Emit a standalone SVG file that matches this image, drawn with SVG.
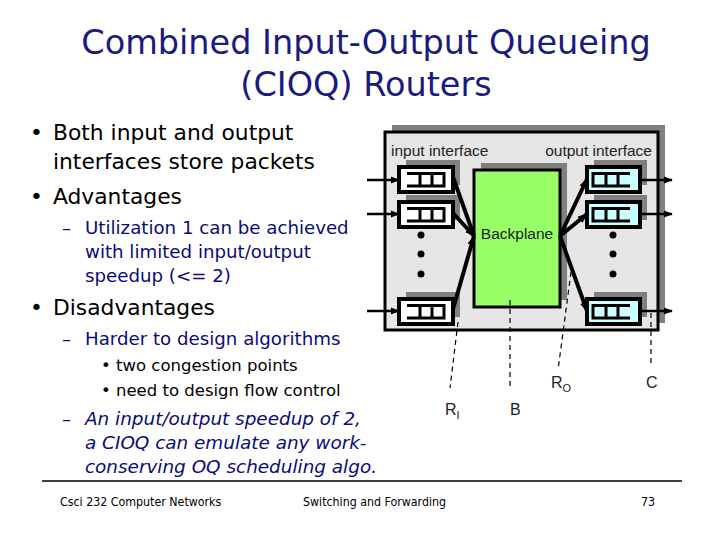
<svg xmlns="http://www.w3.org/2000/svg" width="720" height="540" viewBox="0 0 720 540">
<defs>
<style>
.title{font-family:"DejaVu Sans",sans-serif;font-size:33.5px;fill:#1a1a80;text-anchor:middle}
.l1{font-family:"DejaVu Sans",sans-serif;font-size:21.8px;fill:#000}
.l2{font-family:"DejaVu Sans",sans-serif;font-size:18.2px;fill:#0a0a80}
.l2i{font-family:"DejaVu Sans",sans-serif;font-size:18.4px;fill:#0a0a80;font-style:italic}
.l3{font-family:"DejaVu Sans",sans-serif;font-size:16.5px;fill:#000}
.foot{font-family:"DejaVu Sans Condensed","DejaVu Sans",sans-serif;font-size:12.3px;fill:#000}
.lab{font-family:"Liberation Sans",Arial,sans-serif;fill:#222}
.shadow{fill:#808080}
.inbox{fill:#fff;stroke:#000;stroke-width:4}
.outbox{fill:#ccffff;stroke:#000;stroke-width:4}
.q{fill:none;stroke:#000;stroke-width:3}
.thick{stroke:#000;stroke-width:4;fill:none}
.ext{stroke:#000;stroke-width:2.5;fill:none}
.dash{stroke:#000;stroke-width:1.2;stroke-dasharray:5,4;fill:none}
</style>
<marker id="ah" viewBox="0 0 10 8" refX="9" refY="4" markerWidth="10" markerHeight="8" markerUnits="userSpaceOnUse" orient="auto">
<path d="M0,0 L10,4 L0,8 z" fill="#000"/>
</marker>
<marker id="ahs" viewBox="0 0 10 8" refX="9" refY="4" markerWidth="9" markerHeight="8" markerUnits="userSpaceOnUse" orient="auto">
<path d="M0,0 L10,4 L0,8 z" fill="#000"/>
</marker>
</defs>
<rect width="720" height="540" fill="#fff"/>

<g id="title">
<text class="title" x="366" y="54">Combined Input-Output Queueing</text>
<text class="title" x="366" y="96">(CIOQ) Routers</text>
</g>

<g id="bullets">
<text class="l1" x="30" y="140">•</text>
<text class="l1" x="53" y="140">Both input and output</text>
<text class="l1" x="53" y="169">interfaces store packets</text>
<text class="l1" x="30" y="204">•</text>
<text class="l1" x="53" y="204">Advantages</text>
<text class="l2" x="62" y="234">–</text>
<text class="l2" x="85" y="234">Utilization 1 can be achieved</text>
<text class="l2" x="85" y="258">with limited input/output</text>
<text class="l2" x="85" y="282">speedup (&lt;= 2)</text>
<text class="l1" x="30" y="315">•</text>
<text class="l1" x="53" y="315">Disadvantages</text>
<text class="l2" x="62" y="345">–</text>
<text class="l2" x="85" y="345">Harder to design algorithms</text>
<text class="l3" x="101" y="371">•</text>
<text class="l3" x="116" y="371">two congestion points</text>
<text class="l3" x="101" y="396">•</text>
<text class="l3" x="116" y="396">need to design flow control</text>
<text class="l2" x="62" y="425">–</text>
<text class="l2i" x="85" y="425">An input/output speedup of 2,</text>
<text class="l2i" x="85" y="449">a CIOQ can emulate any work-</text>
<text class="l2i" x="85" y="473">conserving OQ scheduling algo.</text>
</g>

<g id="router">
<rect class="shadow" x="392" y="125" width="273" height="198"/>
<rect x="385" y="132" width="273" height="198" fill="#e6e6e6" stroke="#000" stroke-width="3"/>
<text class="lab" x="391" y="156" font-size="15.5">input interface</text>
<text class="lab" x="652" y="156" font-size="15.5" text-anchor="end">output interface</text>
</g>

<g id="backplane">
<rect class="shadow" x="481" y="163" width="86" height="137"/>
<rect x="474" y="170" width="86" height="137" fill="#99ff66" stroke="#000" stroke-width="3"/>
<text class="lab" x="517" y="239" font-size="15.5" text-anchor="middle" fill="#1a2a10">Backplane</text>
</g>

<g id="in1">
<rect class="shadow" x="406" y="160" width="54" height="25"/>
<rect class="inbox" x="399" y="167" width="54" height="25"/>
<path class="q" d="M407,173.5 H444 V186 H407 M420,173.5 V186 M432,173.5 V186"/>
</g>
<g id="in2">
<rect class="shadow" x="406" y="195" width="54" height="25"/>
<rect class="inbox" x="399" y="202" width="54" height="25"/>
<path class="q" d="M407,208.5 H444 V221 H407 M420,208.5 V221 M432,208.5 V221"/>
</g>
<g id="in3">
<rect class="shadow" x="406" y="292" width="54" height="25"/>
<rect class="inbox" x="399" y="299" width="54" height="25"/>
<path class="q" d="M407,305.5 H444 V318 H407 M420,305.5 V318 M432,305.5 V318"/>
</g>
<g id="indots" fill="#000">
<circle cx="421" cy="235" r="3.5"/>
<circle cx="421" cy="254" r="3.5"/>
<circle cx="421" cy="274" r="3.5"/>
</g>

<g id="out1">
<rect class="shadow" x="594" y="160" width="53" height="25"/>
<rect class="outbox" x="587" y="167" width="53" height="25"/>
<path class="q" d="M630,173.5 H593 V186 H630 M606,173.5 V186 M618,173.5 V186"/>
</g>
<g id="out2">
<rect class="shadow" x="594" y="195" width="53" height="25"/>
<rect class="outbox" x="587" y="202" width="53" height="25"/>
<path class="q" d="M630,208.5 H593 V221 H630 M606,208.5 V221 M618,208.5 V221"/>
</g>
<g id="out3">
<rect class="shadow" x="594" y="292" width="53" height="25"/>
<rect class="outbox" x="587" y="299" width="53" height="25"/>
<path class="q" d="M630,305.5 H593 V318 H630 M606,305.5 V318 M618,305.5 V318"/>
</g>
<g id="outdots" fill="#000">
<circle cx="613" cy="235" r="3.5"/>
<circle cx="613" cy="254" r="3.5"/>
<circle cx="613" cy="274" r="3.5"/>
</g>

<g id="connectors">
<line class="ext" x1="367" y1="180" x2="399" y2="180" marker-end="url(#ahs)"/>
<line class="ext" x1="367" y1="214" x2="399" y2="214" marker-end="url(#ahs)"/>
<line class="ext" x1="367" y1="311" x2="399" y2="311" marker-end="url(#ahs)"/>
<line class="ext" x1="640" y1="180" x2="672" y2="180" marker-end="url(#ahs)"/>
<line class="ext" x1="640" y1="214" x2="672" y2="214" marker-end="url(#ahs)"/>
<line class="ext" x1="640" y1="311" x2="672" y2="311" marker-end="url(#ahs)"/>
<line class="thick" x1="453" y1="177" x2="474" y2="236" marker-end="url(#ah)"/>
<line class="thick" x1="453" y1="213" x2="474" y2="236" marker-end="url(#ah)"/>
<line class="thick" x1="453" y1="309" x2="474" y2="236" marker-end="url(#ah)"/>
<line class="thick" x1="560" y1="236" x2="587" y2="179" marker-end="url(#ah)"/>
<line class="thick" x1="560" y1="236" x2="587" y2="214" marker-end="url(#ah)"/>
<line class="thick" x1="560" y1="236" x2="587" y2="311" marker-end="url(#ah)"/>
<line class="dash" x1="458" y1="322" x2="450" y2="388"/>
<line class="dash" x1="510" y1="300" x2="510" y2="388"/>
<line class="dash" x1="571" y1="272" x2="558" y2="370"/>
<line class="dash" x1="651" y1="313" x2="651" y2="365"/>
</g>

<g id="labels" class="lab" font-size="16">
<text x="445" y="415">R<tspan font-size="11" dy="4">I</tspan></text>
<text x="510" y="415">B</text>
<text x="551" y="388">R<tspan font-size="11" dy="4">O</tspan></text>
<text x="646" y="388">C</text>
</g>

<g id="footer">
<line x1="42" y1="481" x2="682" y2="481" stroke="#000" stroke-width="1.5"/>
<text class="foot" x="60" y="506">Csci 232 Computer Networks</text>
<text class="foot" x="303" y="506">Switching and Forwarding</text>
<text class="foot" x="641" y="506">73</text>
</g>
</svg>
